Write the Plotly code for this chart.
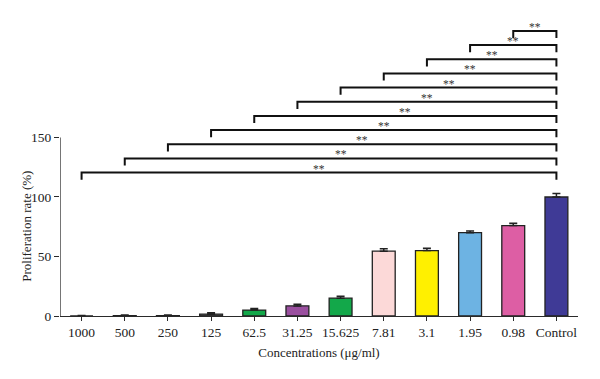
import plotly.graph_objects as go

categories = ["1000", "500", "250", "125", "62.5", "31.25", "15.625", "7.81", "3.1", "1.95", "0.98", "Control"]
proliferation = [0.0, 0.3, 0.3, 1.5, 5.0, 8.5, 15.0, 54.5, 55.0, 70.0, 76.0, 100.0]
error_up = [0.5, 0.5, 0.5, 1.3, 1.3, 1.4, 1.6, 2.0, 2.0, 1.5, 2.0, 3.0]
bar_colors = ["#555555", "#555555", "#555555", "#555555", "#13a84a", "#9a4f9f", "#13a84a",
              "#fcd9d8", "#fff000", "#6db3e3", "#dd5ea4", "#3f3a96"]
significance = ["**"] * 11
y_ticks = [0, 50, 100, 150]

FONT = "Liberation Serif"
AX = "#2a2a2a"

fig = go.Figure()
fig.add_trace(go.Bar(
    x=list(range(len(categories))), y=proliferation,
    marker=dict(color=bar_colors, line=dict(color="#222222", width=1.3)),
    width=0.53,
    error_y=dict(type="data", symmetric=False, array=error_up,
                 arrayminus=[0] * len(error_up), color="#222222",
                 thickness=1.5, width=4),
    showlegend=False,
))

shapes = []
# y-axis line only spanning 0-150
shapes.append(dict(type="line", xref="x", yref="y", x0=-0.5, x1=-0.5,
                   y0=0, y1=y_ticks[-1], line=dict(color=AX, width=1.3)))

annotations = []
base, step, drop = 120.5, 11.9, 6
ctrl = len(categories) - 1
for i, s in enumerate(significance):
    h = base + step * i
    shapes.append(dict(type="path", xref="x", yref="y",
                       path=f"M {i},{h - drop} L {i},{h} L {ctrl},{h} L {ctrl},{h - drop}",
                       line=dict(color="#111111", width=2)))
    annotations.append(dict(x=(i + ctrl) / 2, y=h, xref="x", yref="y",
                            text=s, showarrow=False, yanchor="bottom", yshift=-4,
                            font=dict(family=FONT, size=11.5, color="#333333")))

annotations.append(dict(x=-0.5, y=75, xref="x", yref="y", xshift=-33,
                        text="Proliferation rate (%)", textangle=-90, showarrow=False,
                        xanchor="center", yanchor="middle",
                        font=dict(family=FONT, size=13, color="#222222")))

fig.update_layout(
    width=600, height=379,
    margin=dict(l=60, r=22, t=10, b=63),
    plot_bgcolor="white", paper_bgcolor="white",
    bargap=0.47,
    shapes=shapes, annotations=annotations,
    xaxis=dict(range=[-0.5, 11.5], tickvals=list(range(len(categories))),
               ticktext=categories, showline=True, linecolor=AX, linewidth=1.3,
               ticks="outside", ticklen=4, tickcolor=AX, tickwidth=1.3,
               tickfont=dict(family=FONT, size=13.5, color="#222222"),
               showgrid=False, zeroline=False,
               title=dict(text="Concentrations (μg/ml)", standoff=8,
                          font=dict(family=FONT, size=13, color="#222222"))),
    yaxis=dict(range=[0, 257.1], tickvals=y_ticks, showline=False,
               ticks="outside", ticklen=5, tickcolor=AX, tickwidth=1.3,
               tickfont=dict(family=FONT, size=13.5, color="#222222"),
               showgrid=False, zeroline=False),
)

fig.write_html("out.html")
